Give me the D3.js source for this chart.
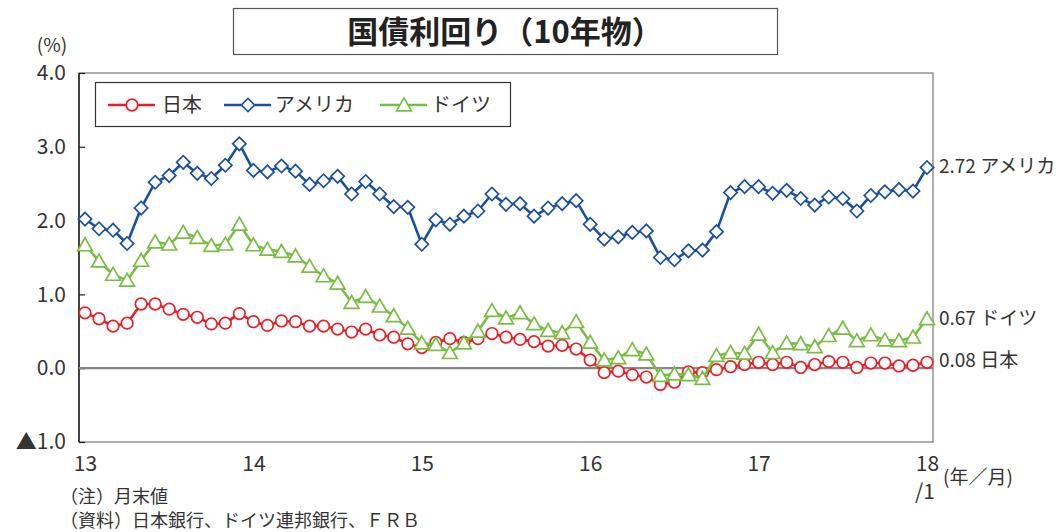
<!DOCTYPE html>
<html>
<head>
<meta charset="utf-8">
<script src="https://cdn.jsdelivr.net/npm/d3@7/dist/d3.min.js"></script>
<style>
  html, body { margin: 0; padding: 0; background: #fff; }
  svg { display: block; }
  text { font-family: "Noto Sans CJK JP", "Noto Sans", sans-serif; fill: #333; }
</style>
</head>
<body>
<svg id="chart" width="1059" height="532"></svg>
<script>
// ---- data (monthly, 2013/1 .. 2018/1) ----
const months = d3.range(61); // index 0 = 2013/1
const japan = [
  0.75, 0.67, 0.57, 0.61, 0.87, 0.87, 0.80, 0.73, 0.69, 0.60, 0.61, 0.74,
  0.63, 0.58, 0.64, 0.63, 0.57, 0.57, 0.53, 0.49, 0.53, 0.45, 0.42, 0.33,
  0.28, 0.35, 0.40, 0.35, 0.40, 0.47, 0.42, 0.39, 0.36, 0.30, 0.31, 0.26,
  0.11, -0.06, -0.04, -0.09, -0.12, -0.22, -0.19, -0.05, -0.06, -0.02, 0.02, 0.05,
  0.08, 0.05, 0.08, 0.01, 0.05, 0.09, 0.08, 0.01, 0.07, 0.07, 0.03, 0.04,
  0.08
];
const usa = [
  2.02, 1.89, 1.87, 1.69, 2.17, 2.52, 2.61, 2.79, 2.64, 2.57, 2.75, 3.04,
  2.68, 2.66, 2.74, 2.67, 2.49, 2.54, 2.60, 2.36, 2.53, 2.36, 2.19, 2.18,
  1.68, 2.01, 1.95, 2.06, 2.13, 2.36, 2.22, 2.23, 2.06, 2.17, 2.23, 2.27,
  1.95, 1.75, 1.78, 1.84, 1.86, 1.50, 1.47, 1.59, 1.60, 1.85, 2.38, 2.46,
  2.46, 2.37, 2.41, 2.30, 2.21, 2.32, 2.30, 2.13, 2.34, 2.39, 2.42, 2.40,
  2.72
];
const germany = [
  1.67, 1.45, 1.27, 1.19, 1.46, 1.71, 1.68, 1.84, 1.77, 1.66, 1.68, 1.95,
  1.67, 1.61, 1.58, 1.52, 1.38, 1.25, 1.15, 0.89, 0.97, 0.84, 0.71, 0.54,
  0.34, 0.32, 0.21, 0.34, 0.50, 0.78, 0.68, 0.75, 0.60, 0.51, 0.48, 0.63,
  0.35, 0.11, 0.14, 0.25, 0.19, -0.10, -0.08, -0.09, -0.14, 0.17, 0.21, 0.20,
  0.46, 0.21, 0.34, 0.33, 0.29, 0.44, 0.54, 0.37, 0.45, 0.38, 0.37, 0.42,
  0.67
];
const yTicks = [4.0, 3.0, 2.0, 1.0, 0.0, -1.0];
const yTickLabels = ["4.0", "3.0", "2.0", "1.0", "0.0", "▲1.0"];
const xTickIdx = [0, 12, 24, 36, 48, 60];
const xTickLabels = ["13", "14", "15", "16", "17", "18"];
const seriesNames = ["日本", "アメリカ", "ドイツ"];
const endLabels = ["0.08 日本", "2.72 アメリカ", "0.67 ドイツ"];
const title = "国債利回り（10年物）";
const notes = ["（注）月末値", "（資料）日本銀行、ドイツ連邦銀行、ＦＲＢ"];

// ---- layout ----
const svg = d3.select("#chart");
const L = 79, R = 933, T = 73, B = 442;
const x = d3.scaleLinear().domain([0, 60]).range([85, 927]);
const y = d3.scaleLinear().domain([-1, 4]).range([B, T]);

const colors = ["#ee1c25", "#1a50a0", "#77be43"];
const seriesData = [japan, usa, germany];
const shapes = [d3.symbolCircle, d3.symbolSquare, d3.symbolTriangle];
const sizes = [105, 88, 95];
const rot = [0, 45, 0];
const dy = [0, 0, 1.5];

// title box
svg.append("rect").attr("x", 233.5).attr("y", 8.5).attr("width", 544).attr("height", 46)
  .attr("fill", "#fff").attr("stroke", "#555").attr("stroke-width", 1.2);
svg.append("text").attr("x", 505).attr("y", 43).attr("text-anchor", "middle")
  .style("font-size", "31px").style("font-weight", "700").style("fill", "#222").text(title);

// unit
svg.append("text").attr("x", 52).attr("y", 52).attr("text-anchor", "middle")
  .style("font-size", "19px").text("(%)");

// frame
svg.append("rect").attr("x", L).attr("y", T).attr("width", R - L).attr("height", B - T)
  .attr("fill", "none").attr("stroke", "#777").attr("stroke-width", 1.2);
svg.append("line").attr("x1", L).attr("x2", L).attr("y1", T).attr("y2", B)
  .attr("stroke", "#222").attr("stroke-width", 1.5);

// y axis ticks & labels
const yAxis = d3.axisLeft(y).tickValues(yTicks).tickSize(-6)
  .tickFormat((d, i) => yTickLabels[i]).tickPadding(13);
const gy = svg.append("g").attr("transform", `translate(${L},0)`).call(yAxis);
gy.select(".domain").remove();
gy.selectAll(".tick line").attr("stroke", "#222").attr("stroke-width", 1.2);
gy.selectAll(".tick text").style("font-size", "21px").style("fill", "#333")
  .style("font-family", "'Noto Sans CJK JP', sans-serif");

// zero line
svg.append("line").attr("x1", L).attr("x2", R).attr("y1", y(0)).attr("y2", y(0))
  .attr("stroke", "#888").attr("stroke-width", 2.2);

// x axis labels
const xAxis = d3.axisBottom(x).tickValues(xTickIdx).tickSize(0)
  .tickFormat((d, i) => xTickLabels[i]).tickPadding(14);
const gx = svg.append("g").attr("transform", `translate(0,${B})`).call(xAxis);
gx.select(".domain").remove();
gx.selectAll(".tick text").style("font-size", "21px").style("fill", "#333")
  .style("font-family", "'Noto Sans CJK JP', sans-serif");
svg.append("text").attr("x", 925).attr("y", 499).attr("text-anchor", "middle")
  .style("font-size", "21px").text("/1");
svg.append("text").attr("x", 943).attr("y", 484)
  .style("font-size", "19px").text("(年／月)");

// lines & markers
const line = d3.line().x((d, i) => x(months[i])).y(d => y(d));
seriesData.forEach((vals, s) => {
  svg.append("path").datum(vals).attr("d", line)
    .attr("fill", "none").attr("stroke", colors[s]).attr("stroke-width", 2.6)
    .attr("stroke-linejoin", "round");
  svg.append("g").selectAll("path").data(vals).join("path")
    .attr("transform", (d, i) => `translate(${x(months[i])},${y(d) + dy[s]}) rotate(${rot[s]})`)
    .attr("d", d3.symbol().type(shapes[s]).size(sizes[s]))
    .attr("fill", "#fff").attr("stroke", colors[s]).attr("stroke-width", 1.7);
});

// end labels
const endY = [360, 166, 318];
endLabels.forEach((t, s) => {
  svg.append("text").attr("x", 939).attr("y", endY[s]).attr("dy", "0.36em")
    .style("font-size", "19px").text(t);
});

// legend
svg.append("rect").attr("x", 95.5).attr("y", 82.5).attr("width", 415).attr("height", 44)
  .attr("fill", "#fff").attr("stroke", "#333").attr("stroke-width", 1.2);
const legX = [108, 224, 380];
const legText = [162, 275, 431];
seriesNames.forEach((n, s) => {
  const cy = 105;
  svg.append("line").attr("x1", legX[s]).attr("x2", legX[s] + 47).attr("y1", cy).attr("y2", cy)
    .attr("stroke", colors[s]).attr("stroke-width", 2.6);
  svg.append("path").attr("transform", `translate(${legX[s] + 24},${cy + dy[s]}) rotate(${rot[s]})`)
    .attr("d", d3.symbol().type(shapes[s]).size(sizes[s]))
    .attr("fill", "#fff").attr("stroke", colors[s]).attr("stroke-width", 1.7);
  svg.append("text").attr("x", legText[s]).attr("y", cy).attr("dy", "0.36em")
    .style("font-size", "20px").text(n);
});

// notes
svg.append("text").attr("x", 60).attr("y", 503).style("font-size", "18px").text(notes[0]);
svg.append("text").attr("x", 60).attr("y", 527).style("font-size", "18px").text(notes[1]);
</script>
</body>
</html>
